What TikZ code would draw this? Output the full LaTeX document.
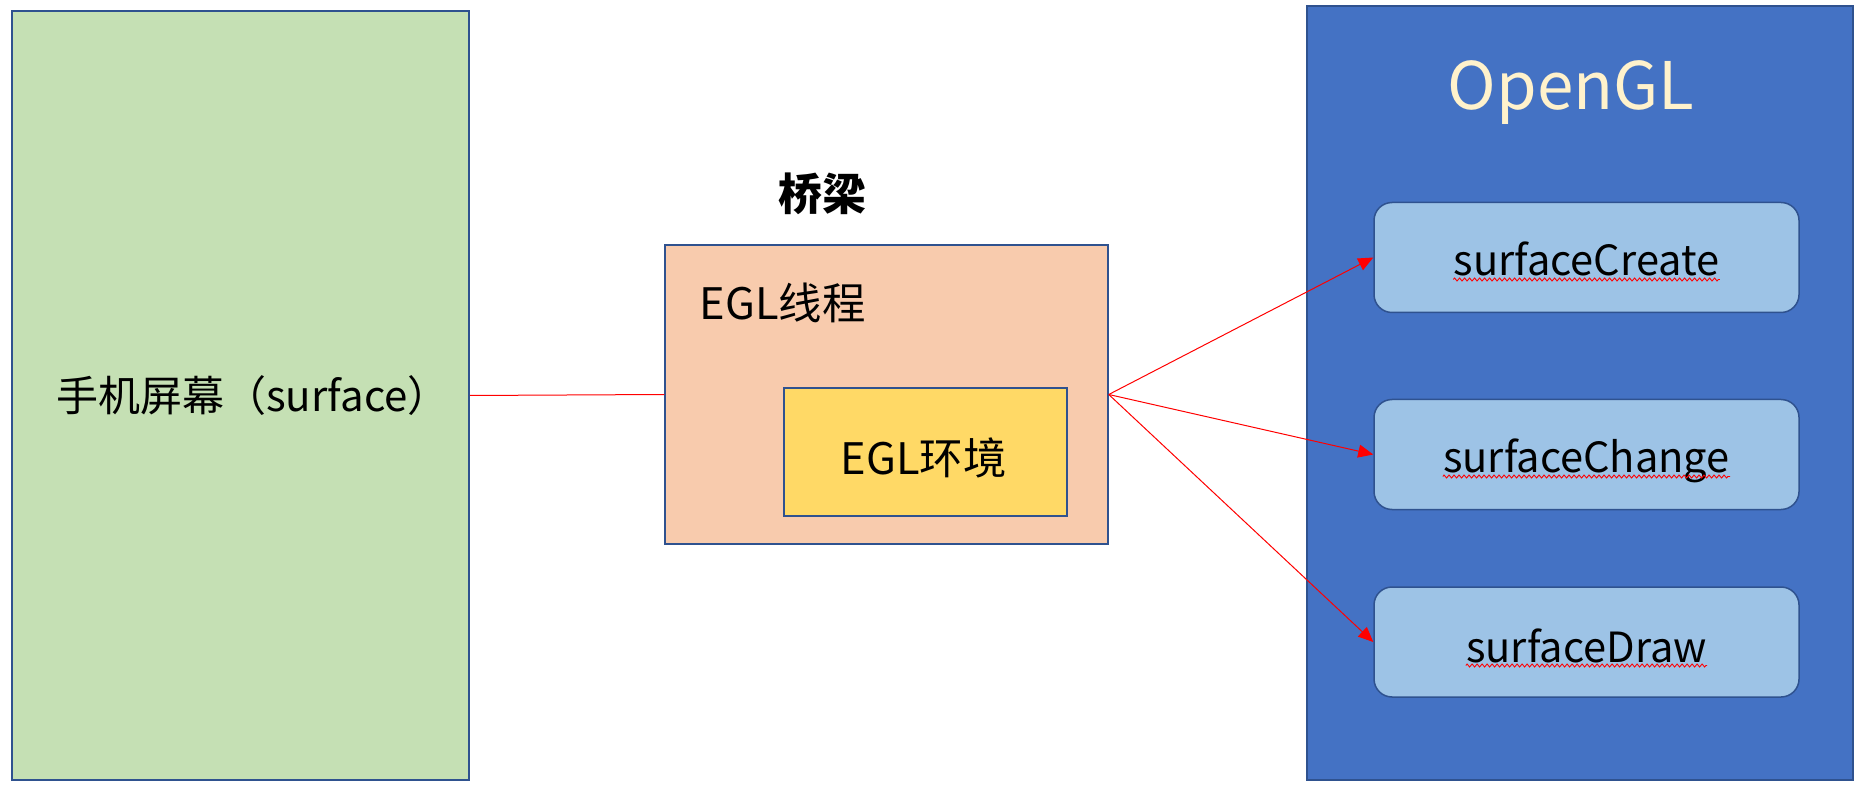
\documentclass[tikz,border=0pt]{standalone}
\usepackage{fontspec}
\setmainfont{Noto Sans CJK SC}
\usetikzlibrary{arrows.meta,decorations.pathmorphing}
\definecolor{frame}{HTML}{2F528F}
\definecolor{greenfill}{HTML}{C5E0B4}
\definecolor{peachfill}{HTML}{F8CBAD}
\definecolor{yellowfill}{HTML}{FFD966}
\definecolor{bluefill}{HTML}{4472C4}
\definecolor{lightblue}{HTML}{9DC3E6}
\definecolor{cream}{HTML}{FFF2CC}
\begin{document}
\begin{tikzpicture}[x=0.5pt,y=-0.5pt,
  box/.style={draw=frame, line width=0.75pt, inner sep=0pt},
  fnbox/.style={box, fill=lightblue, rounded corners=9pt, minimum width=212.5pt, minimum height=55pt},
  txt/.style={inner sep=0pt, text=black},
  fnfont/.style={font=\fontsize{20.8pt}{25pt}\selectfont},
  link/.style={draw=red, line width=0.5pt},
  arr/.style={link, -{Triangle[length=7.5pt,width=6.5pt]}},
  wavy/.style={draw=red, line width=0.45pt, decorate, decoration={zigzag, segment length=2.5pt, amplitude=0.75pt}}
]
\useasboundingbox (0,0) rectangle (1866,790);
% boxes
\node[box, fill=greenfill, minimum width=228.5pt, minimum height=384.5pt] (screen) at (240.5,395.5) {};
\node[box, fill=peachfill, minimum width=221.5pt, minimum height=149.5pt] (thread) at (886.5,394.5) {};
\node[box, fill=yellowfill, minimum width=141.5pt, minimum height=64pt] (env) at (925.5,452) {};
\node[box, fill=bluefill, minimum width=273pt, minimum height=387pt] (gl) at (1580,393) {};
\node[fnbox] (b1) at (1586.5,257.5) {};
\node[fnbox] (b2) at (1586.5,454.5) {};
\node[fnbox] (b3) at (1586.5,642) {};
% texts
\node[txt, font=\fontsize{21pt}{25pt}\selectfont] (tscreen) at (253,396) {手机屏幕（surface）};
\node[txt, font=\bfseries\fontsize{22pt}{26pt}\selectfont] (bridge) at (822,194) {桥梁};
\node[txt, font=\fontsize{21.7pt}{26pt}\selectfont] (tthread) at (782.5,303) {EGL线程};
\node[txt, font=\fontsize{21.7pt}{26pt}\selectfont] (tenv) at (923.5,458) {EGL环境};
\node[txt, text=cream, font=\fontsize{32.8pt}{38pt}\selectfont, anchor=base] (tgl) at (1571,110) {OpenGL};
\node[txt, fnfont, anchor=base] (t1) at ([yshift=-9.25pt]b1.center) {surfaceCreate};
\node[txt, fnfont, anchor=base] (t2) at ([yshift=-9.25pt]b2.center) {surfaceChange};
\node[txt, fnfont, anchor=base] (t3) at ([yshift=-10pt]b3.center) {surfaceDraw};
% spell-check underlines
\draw[wavy] ([yshift=-1.75pt]t1.base west) -- ([yshift=-1.75pt]t1.base east);
\draw[wavy] ([yshift=-1.75pt]t2.base west) -- ([yshift=-1.75pt]t2.base east);
\draw[wavy] ([yshift=-1.75pt]t3.base west) -- ([yshift=-1.75pt]t3.base east);
% connectors
\draw[link] (screen.east) -- (thread.west);
\draw[arr] (thread.east) -- (b1.west);
\draw[arr] (thread.east) -- (b2.west);
\draw[arr] (thread.east) -- (b3.west);
\end{tikzpicture}
\end{document}
